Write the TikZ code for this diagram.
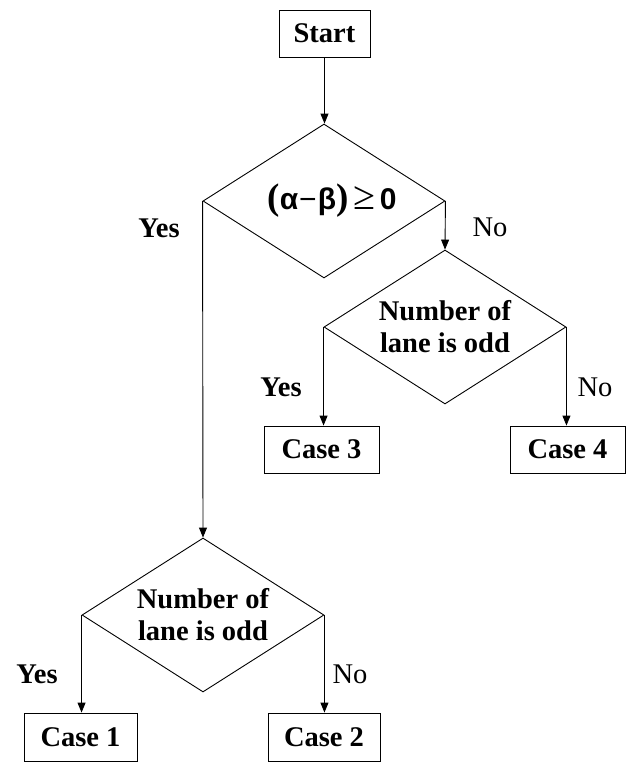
\documentclass[tikz,border=0pt]{standalone}
\usepackage{fontspec}
\setmainfont{Liberation Serif}
\newfontfamily\symsans{Liberation Sans}
\usetikzlibrary{shapes.geometric,arrows.meta}
\tikzset{
  box/.style={draw, line width=0.9pt, rectangle, inner sep=0pt, font=\fontsize{28.5}{32}\selectfont\bfseries},
  dec/.style={draw, line width=0.9pt, diamond, shape aspect=1.57, minimum width=242pt, minimum height=154pt, inner sep=0pt, align=center, font=\fontsize{28.5}{32}\selectfont\bfseries},
  lbl/.style={inner sep=0pt, font=\fontsize{28.5}{32}\selectfont\bfseries},
  lbln/.style={inner sep=0pt, font=\fontsize{28.5}{32}\selectfont}
}
\tikzset{arr/.style={line width=0.9pt, -{Triangle[length=10pt,width=8pt]}}}
\begin{document}
\begin{tikzpicture}[x=1pt,y=-1pt]
\useasboundingbox (0,0) rectangle (627,763);
\node[box, minimum width=91pt, minimum height=47pt] (start) at (324.5,33.5) {Start};
\node[dec] (d1) at (324,201) {\hspace{16pt}{\fontsize{37}{37}\selectfont(}{\symsans\fontsize{30}{31}\selectfont α\kern1pt{\mdseries −}\kern1pt β}{\fontsize{37}{37}\selectfont)}\,{\mdseries\fontsize{40}{31}\selectfont ≥}\,{\symsans\fontsize{30}{31}\selectfont 0}};
\node[dec] (d2) at (445,327) {Number of\\lane is odd};
\node[dec] (d3) at (203,615) {Number of\\lane is odd};
\node[box, minimum width=115pt, minimum height=47pt] (c3) at (321.5,449.5) {Case 3};
\node[box, minimum width=115pt, minimum height=47pt] (c4) at (567.5,449.5) {Case 4};
\node[box, minimum width=113pt, minimum height=48pt] (c1) at (80.5,737) {Case 1};
\node[box, minimum width=112pt, minimum height=48pt] (c2) at (324,737) {Case 2};
\draw[arr] (start.south) -- (start.south |- d1.north);
\draw[arr] (d1.west) -- (d3.north);
\draw[arr] (d1.east) -- (d2.north);
\draw[arr] (d2.west) -- (d2.west |- c3.north);
\draw[arr] (d2.east) -- (d2.east |- c4.north);
\draw[arr] (d3.west) -- (d3.west |- c1.north);
\draw[arr] (d3.east) -- (d3.east |- c2.north);
\node[lbl] (y1) at (159,228) {Yes};
\node[lbln] (n1) at (490,227) {No};
\node[lbl] (y2) at (281,387) {Yes};
\node[lbln] (n2) at (595,387) {No};
\node[lbl] (y3) at (37,674) {Yes};
\node[lbln] (n3) at (350,674) {No};
\end{tikzpicture}
\end{document}
